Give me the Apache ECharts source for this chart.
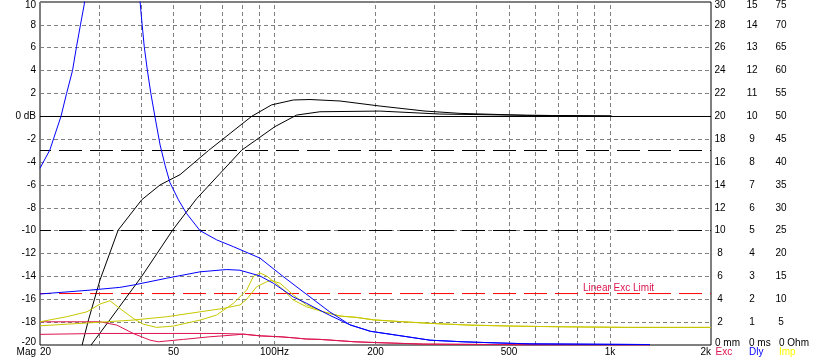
<!DOCTYPE html>
<html><head><meta charset="utf-8">
<script src="https://cdn.jsdelivr.net/npm/echarts@6/dist/echarts.min.js"></script>
<style>html,body{margin:0;padding:0;background:#fff}#c{width:824px;height:364px}</style>
</head><body><div id="c"></div>
<script>
const FONT = '"Liberation Sans", Arial, sans-serif';
const CRIMSON = '#dc1450';
const YELLOW = '#c8c800';
const BLUE = '#0000ff';

// x axis (Hz)
const freqTicks = [20, 50, 100, 200, 500, 1000, 2000];
const freqTickLabels = ['20', '50', '100Hz', '200', '500', '1k', '2k'];
const freqGrid = [30, 40, 50, 60, 70, 80, 90, 100, 200, 300, 400, 500, 600, 700, 800, 900, 1000];
const freqRange = [20, 2000];

// SPL magnitude (dB) [Hz, dB]
const splA = [[26.7,-20],[27.9,-17.8],[30.2,-14.3],[34.2,-9.95],[40.2,-7.3],[45.6,-6.0],[52.3,-5.1],[63.5,-3.0],[85.5,0],[98,1.0],[113.8,1.43],[127.6,1.47],[156.8,1.34],[206,0.9],[281,0.46],[357,0.26],[564,0.09],[1010,0.03]];
const splB = [[28.4,-20],[32.3,-17.8],[40.2,-14.0],[49.7,-9.95],[58.6,-7.2],[68.8,-5.0],[79.9,-2.95],[100.3,-0.9],[116.4,0.11],[136.6,0.4],[206,0.46],[311,0.2],[564,0.09],[1010,0.03]];

// Group delay (ms) [Hz, ms]
const dly1 = [[20,7.73],[21.4,8.53],[23.1,10.0],[24.0,11.0],[25.0,12.0],[25.7,13.05],[26.4,14.0],[27.1,14.9],[28,17.5],[31,24],[34,22],[37,17.5],[39.7,15.1],[40.2,14.2],[40.9,13.05],[41.8,12.0],[42.8,11.0],[44.0,10.0],[45.6,8.75],[47.2,7.85],[48.8,7.1],[51.7,6.35],[54.7,5.75],[60,5.0],[67.2,4.6],[75.4,4.3],[90.5,3.8],[106,3.0],[125,2.2],[146,1.45],[168,0.88],[193,0.6],[231,0.43],[291,0.21],[365,0.14],[439,0.1],[577,0.05],[1316,0.02]];
const dly2 = [[20,2.23],[28.2,2.4],[34.6,2.52],[37.9,2.62],[47.7,2.92],[60,3.2],[72,3.3],[78.9,3.27],[90.5,3.02],[99.2,2.7],[113.8,2.1],[124.7,1.82],[146,1.3],[168,0.88],[193,0.6],[231,0.43],[291,0.21],[365,0.14],[439,0.1],[577,0.05],[1316,0.02]];

// Impedance (Ohm) [Hz, Ohm]
const imp1 = [[20,5.08],[24.0,6.18],[27.6,7.25],[30.2,8.95],[32.3,9.68],[34.6,8.0],[37.9,5.83],[40.6,4.57],[44.5,3.85],[49.9,4.13],[60,5.45],[67.2,6.55],[75.4,9.1],[82.6,12.0],[86.5,15.0],[90.5,15.75],[94.8,15.08],[103.9,12.75],[113.8,9.83],[124.7,8.35],[139.8,7.25],[156.8,6.33],[175.8,6.03],[197,5.5],[236.6,5.12],[291,4.73],[382,4.35],[515,4.13],[726,3.98],[1147,3.85],[2000,3.85]];
const imp2 = [[20,4.2],[28.2,4.85],[37.9,5.45],[47.7,6.18],[60,7.25],[70.4,8.0],[78.9,8.75],[82.6,10.0],[88.5,12.75],[94.8,13.83],[97.6,14.1],[103.9,13.5],[113.8,10.93],[124.7,8.75],[139.8,7.25],[156.8,6.33],[175.8,6.03],[197,5.5],[236.6,5.12],[291,4.73],[382,4.35],[515,4.13],[726,3.98],[1147,3.85],[2000,3.85]];

// Cone excursion (mm) [Hz, mm]
const exc1 = [[20,2.03],[30.2,2.03],[33.9,1.74],[37.9,1.01],[42.5,0.43],[45.0,0.28],[53.5,0.49],[64.2,0.72],[75.4,0.87],[80.7,0.95],[90.5,0.8],[103.9,0.72],[113.8,0.63],[124.7,0.52],[136.6,0.49],[146.4,0.43],[173.8,0.28],[206,0.2],[277.6,0.08],[577,0.02],[1316,0.01]];
const exc2 = [[20,0.93],[30.2,1.01],[68.8,1.01],[80.7,0.95],[90.5,0.8],[103.9,0.72],[113.8,0.63],[124.7,0.52],[136.6,0.49],[146.4,0.43],[173.8,0.28],[206,0.2],[277.6,0.08],[577,0.02],[1316,0.01]];
const excLimit = 4.5;

const lg = v => Math.log10(v);
const txt = {fontSize: 10, fontFamily: FONT, color: '#000'};
const rich = {
  t: Object.assign({padding: [6, 0, 0, 0]}, txt),
  b: Object.assign({padding: [0, 0, 5, 0]}, txt)
};
function yFmt(min, max, zeroText) {
  return v => {
    if (v === max) return '{t|' + v + '}';
    if (v === min) return zeroText === '' ? '' : '{b|' + v + '}';
    if (v === 0) return zeroText;
    return String(v);
  };
}
function rightAxis(max, interval, offset) {
  return {
    type: 'value', position: 'right', min: 0, max: max, interval: interval, offset: offset,
    axisLine: {show: false, onZero: false}, axisTick: {show: false}, splitLine: {show: false},
    axisLabel: Object.assign({margin: 9, align: 'center', formatter: yFmt(0, max, ''), rich: rich}, txt)
  };
}
const gridLine = {color: '#808080', width: 1, type: [4, 3]};
const longDash = (color) => ({color: color, width: 1, type: [23, 8], dashOffset: 12});
function lineSeries(name, data, yIdx, color, extra) {
  return Object.assign({
    name: name, type: 'line', data: data, xAxisIndex: 0, yAxisIndex: yIdx,
    showSymbol: false, symbol: 'none', smooth: false, clip: true, z: 2,
    lineStyle: {color: color, width: 1}, itemStyle: {color: color}, animation: false
  }, extra || {});
}
const mlBase = {silent: true, symbol: ['none', 'none'], label: {show: false}, animation: false, z: 1};
const gtext = (text, x, y, align, fill) => ({type: 'text', silent: true, style: {
  text: text, x: x, y: y, align: align, verticalAlign: 'middle', textAlign: align, textVerticalAlign: 'middle',
  font: '10px ' + FONT, fill: fill}});

const chart = echarts.init(document.getElementById('c'), null, {renderer: 'canvas'});
chart.setOption({
  animation: false,
  backgroundColor: '#fff',
  grid: {left: 40, right: 113, top: 2, bottom: 19, show: true, borderColor: '#000', borderWidth: 1, containLabel: false},
  xAxis: [
    {type: 'log', logBase: 10, min: freqRange[0], max: freqRange[1], position: 'bottom',
     axisLine: {show: false, onZero: false}, axisTick: {show: false}, axisLabel: {show: false}, splitLine: {show: false}},
    {type: 'value', position: 'bottom', min: lg(freqRange[0]), max: lg(freqRange[1]),
     axisLine: {show: false, onZero: false}, axisTick: {show: false}, splitLine: {show: false},
     axisLabel: Object.assign({
       margin: 2, customValues: freqTicks.map(lg), alignMinLabel: 'left', alignMaxLabel: 'right',
       formatter: v => { const i = freqTicks.findIndex(f => Math.abs(lg(f) - v) < 1e-6); return i >= 0 ? freqTickLabels[i] : ''; }
     }, txt)}
  ],
  yAxis: [
    {type: 'value', position: 'left', min: -20, max: 10, interval: 2,
     axisLine: {show: false, onZero: false}, axisTick: {show: false},
     splitLine: {show: true, lineStyle: gridLine},
     axisLabel: Object.assign({margin: 4, formatter: yFmt(-20, 10, '0 dB'), rich: rich}, txt)},
    rightAxis(30, 2, 0),
    rightAxis(15, 1, 32),
    rightAxis(75, 5, 61)
  ],
  graphic: [
    gtext('Mag', 36, 352, 'right', '#000'),
    gtext('0 mm', 715, 343, 'left', '#000'),
    gtext('0 ms', 749, 343, 'left', '#000'),
    gtext('0 Ohm', 779, 343, 'left', '#000'),
    gtext('Exc', 715.5, 352, 'left', CRIMSON),
    gtext('Dly', 749, 352, 'left', BLUE),
    gtext('Imp', 779, 352, 'left', '#ffff00'),
    gtext('Linear Exc Limit', 583, 288.5, 'left', CRIMSON)
  ],
  series: [
    lineSeries('grid', [], 0, '#808080', {
      markLine: Object.assign({}, mlBase, {lineStyle: gridLine, data: freqGrid.map(f => ({xAxis: f}))})
    }),
    lineSeries('Linear Exc Limit', freqRange.map(f => [f, excLimit]), 1, '#ff0000', {z: 1, lineStyle: longDash('#ff0000')}),
    lineSeries('SPL A', splA, 0, '#000', {
      markLine: Object.assign({}, mlBase, {lineStyle: {color: '#000', width: 1}, data: [
        {yAxis: 0, lineStyle: {color: '#000', width: 1, type: 'solid'}},
        {yAxis: -3, lineStyle: longDash('#000')},
        {yAxis: -10, lineStyle: longDash('#000')}
      ]})
    }),
    lineSeries('SPL B', splB, 0, '#000'),
    lineSeries('Exc 1', exc1, 1, CRIMSON),
    lineSeries('Exc 2', exc2, 1, CRIMSON),
    lineSeries('Imp 1', imp1, 3, YELLOW),
    lineSeries('Imp 2', imp2, 3, YELLOW),
    lineSeries('Dly 1', dly1, 2, BLUE),
    lineSeries('Dly 2', dly2, 2, BLUE)
  ]
});
</script></body></html>
